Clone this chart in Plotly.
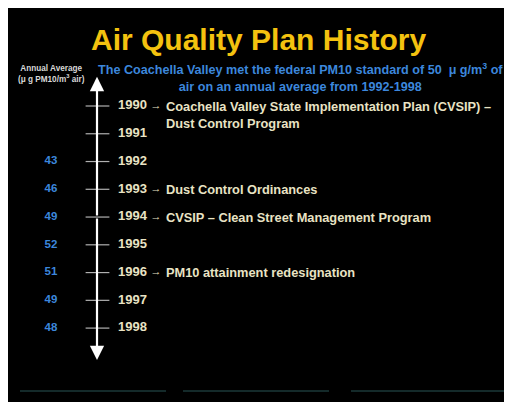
import plotly.graph_objects as go

# ---- data ----
years = [1990, 1991, 1992, 1993, 1994, 1995, 1996, 1997, 1998]
annual_avg = [None, None, 43, 46, 49, 52, 51, 49, 48]
event_years = [1990, 1993, 1994, 1996]
event_texts = [
    "Coachella Valley State Implementation Plan (CVSIP) –<br>Dust Control Program",
    "Dust Control Ordinances",
    "CVSIP – Clean Street Management Program",
    "PM10 attainment redesignation",
]
title_text = "Air Quality Plan History"
subtitle_text = ("The Coachella Valley met the federal PM10 standard of 50 &#160;μ g/m<sup>3</sup> of"
                 "<br>air on an annual average from 1992-1998")
axis_label = "Annual Average<br>(μ g PM10/m<sup>3</sup> air)"

W, H = 512, 402
OFF = 8  # page body offset
# y axis: years, reversed (page pixel = 217 + (year-1994)*27.77)
Y_TOP, Y_BOT = 1986.47, 2000.95

def py(p):  # page pixel y -> paper
    return (H + OFF - p) / H

FONT = "Liberation Sans, Arial, sans-serif"
CREAM = "#e9e3c4"
BLUE = "#3c87dc"
YELLOW = "#f4c20f"

fig = go.Figure()

# tick marks on timeline
fig.add_trace(go.Scatter(
    x=[97.5] * len(years), y=years, mode="markers",
    marker=dict(symbol="line-ew", size=17, line=dict(color="#b0b0b0", width=1.2)),
    hoverinfo="skip", showlegend=False))

# year labels
fig.add_trace(go.Scatter(
    x=[118] * len(years), y=years, mode="text", text=[str(y) for y in years],
    textposition="middle right",
    textfont=dict(family=FONT, size=13, color=CREAM, weight="bold"),
    hoverinfo="skip", showlegend=False))

# annual averages
avg_y = [y for y, v in zip(years, annual_avg) if v is not None]
avg_v = [str(v) for v in annual_avg if v is not None]
fig.add_trace(go.Scatter(
    x=[51] * len(avg_y), y=avg_y, mode="text", text=avg_v,
    textposition="middle center",
    textfont=dict(family=FONT, size=11.5, color=BLUE, weight="bold"),
    hoverinfo="skip", showlegend=False))

# small arrows to events
fig.add_trace(go.Scatter(
    x=[156] * len(event_years), y=event_years, mode="text", text=["→"] * len(event_years),
    textposition="middle center",
    textfont=dict(family=FONT, size=11, color=CREAM, weight="bold"),
    hoverinfo="skip", showlegend=False))

# event texts
for ey, et in zip(event_years, event_texts):
    fig.add_annotation(x=164, y=ey, xref="x", yref="y", text=et, showarrow=False,
                       xanchor="left", yanchor="top", yshift=9.5, align="left",
                       font=dict(family=FONT, size=12.8, color=CREAM, weight="bold"))

# timeline double arrow
mid = (years[0] + years[-1]) / 2
for tip in (1988.95, 1999.15):
    fig.add_annotation(x=97, y=tip, ax=97, ay=mid, xref="x", yref="y", axref="x", ayref="y",
                       text="", showarrow=True, arrowhead=2, arrowsize=1.3, arrowwidth=2.2,
                       arrowcolor="white")

# title
fig.add_annotation(x=258, y=py(39), xref="x", yref="paper", text=title_text, showarrow=False,
                   xanchor="center", yanchor="middle",
                   font=dict(family=FONT, size=30, color=YELLOW, weight="bold"))
# subtitle
fig.add_annotation(x=300, y=py(77), xref="x", yref="paper", text=subtitle_text, showarrow=False,
                   xanchor="center", yanchor="middle", align="center",
                   font=dict(family=FONT, size=12.6, color=BLUE, weight="bold"))
# axis label
fig.add_annotation(x=51, y=py(74), xref="x", yref="paper", text=axis_label, showarrow=False,
                   xanchor="center", yanchor="middle", align="center",
                   font=dict(family=FONT, size=8.2, color="#d8d8d8", weight="bold"))

# bottom decorative teal line segments
for x0, x1 in [(20, 166), (183, 329), (351, 520)]:
    fig.add_shape(type="line", x0=x0, x1=x1, y0=py(391), y1=py(391), xref="x", yref="paper",
                  line=dict(color="#1b3838", width=1.5))

fig.update_layout(
    width=W, height=H,
    margin=dict(l=0, r=0, t=0, b=0, pad=0),
    paper_bgcolor="black", plot_bgcolor="black",
    xaxis=dict(range=[OFF, W + OFF], visible=False, fixedrange=True),
    yaxis=dict(range=[Y_BOT, Y_TOP], visible=False, fixedrange=True),
    showlegend=False,
)

fig.write_html("out.html")
